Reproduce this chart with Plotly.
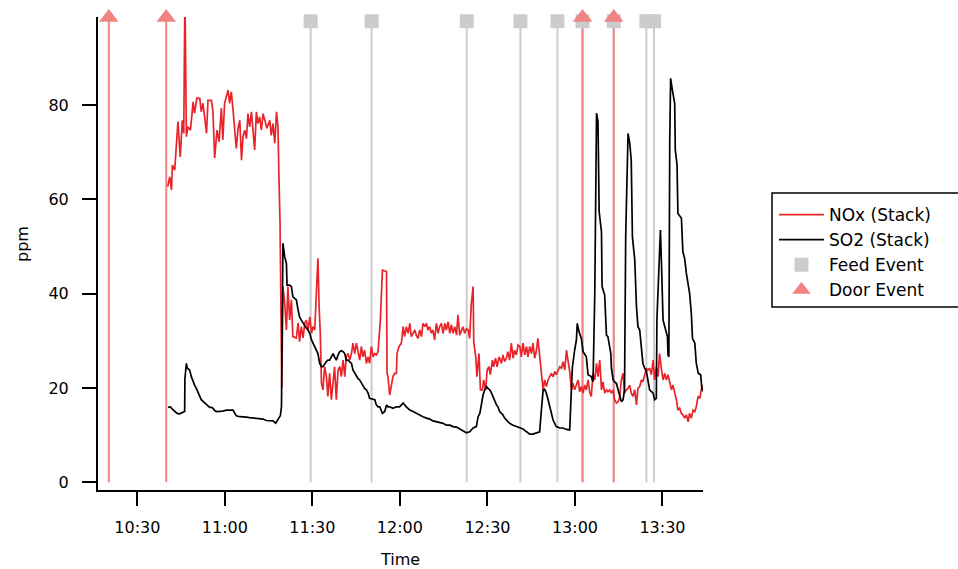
import pandas as pd
import plotly.graph_objects as go

# ---------------- data (minutes after 10:30, ppm) ----------------
nox_min = [10.4, 11.1, 11.7, 12.0, 12.8, 13.4, 13.9, 14.7, 15.4, 15.9, 16.3, 16.8, 17.3, 18.2, 19.1, 19.6,
           20.4, 21.4, 21.9, 22.5, 23.1, 23.7, 24.2, 25.4, 25.9, 26.5, 27.3, 28.0, 28.8, 29.3, 29.9, 30.5,
           31.1, 31.6, 32.2, 32.8, 33.4, 33.9, 34.5, 35.1, 35.7, 36.2, 36.8, 37.4, 37.9, 38.5, 39.1, 39.6,
           40.2, 40.8, 41.3, 41.9, 42.5, 43.1, 44.0, 44.4, 45.4, 45.9, 46.5, 47.1, 47.7, 48.2, 48.5, 48.9,
           49.5, 49.9, 50.5, 51.1, 51.6, 52.2, 52.8, 53.3, 54.5, 55.1, 55.6, 56.2, 56.8, 57.4, 57.9, 58.5,
           59.1, 59.7, 60.2, 60.8, 61.4, 61.9, 62.3, 62.7, 63.1, 63.6, 64.2, 64.8, 65.3, 65.9, 66.5, 67.1,
           67.6, 68.2, 68.8, 69.4, 69.9, 70.5, 71.1, 71.6, 72.2, 72.8, 73.4, 73.9, 74.5, 75.1, 75.6, 76.2,
           76.8, 77.3, 77.9, 78.5, 79.1, 79.6, 80.2, 80.8, 81.4, 81.9, 82.5, 83.3, 84.0, 85.4, 85.6, 85.9,
           86.5, 87.1, 87.6, 88.2, 88.8, 89.0, 89.7, 90.5, 91.1, 91.6, 92.2, 92.8, 93.4, 93.9, 94.5, 95.1,
           95.6, 96.2, 96.8, 97.4, 97.9, 98.5, 99.1, 99.6, 100.2, 100.8, 101.3, 101.9, 102.5, 103.1, 103.6,
           104.2, 104.8, 105.4, 105.9, 106.5, 107.1, 107.6, 108.2, 108.8, 109.4, 109.9, 110.5, 111.1, 111.6,
           112.2, 112.8, 113.4, 113.9, 114.5, 115.1, 115.3, 116.0, 116.4, 117.1, 117.6, 118.3, 118.7, 119.4,
           119.9, 120.5, 121.0, 121.7, 122.1, 122.8, 123.3, 124.0, 124.8, 125.3, 125.9, 126.5, 127.0, 127.6,
           128.2, 128.8, 129.3, 129.9, 130.5, 131.1, 131.6, 132.2, 132.8, 133.4, 133.9, 134.5, 135.1, 135.6,
           136.2, 136.8, 137.3, 137.9, 138.5, 139.1, 139.6, 140.2, 140.8, 141.4, 141.9, 142.5, 143.1, 143.6,
           144.2, 144.8, 145.4, 145.9, 146.5, 147.1, 147.6, 148.2, 148.8, 149.3, 149.9, 150.5, 151.1, 151.6,
           152.2, 152.8, 153.3, 153.9, 154.5, 155.1, 155.6, 156.2, 156.8, 157.4, 157.9, 158.5, 159.1, 159.6,
           160.2, 160.8, 161.3, 161.9, 162.5, 163.1, 163.6, 164.2, 164.8, 165.3, 165.9, 166.5, 167.0, 167.6,
           168.2, 168.8, 169.3, 169.9, 170.5, 171.1, 171.6, 172.2, 172.8, 173.3, 173.9, 174.5, 175.0, 175.6,
           176.2, 176.8, 177.3, 177.9, 178.5, 179.0, 179.6, 180.2, 180.8, 181.3, 181.9, 182.5, 183.1, 183.6,
           184.2, 184.8, 185.3, 185.9, 186.5, 187.0, 187.6, 188.2, 188.8, 189.3, 189.9, 190.5, 191.1, 191.6,
           192.2, 192.8, 193.3, 193.9]
nox_ppm = [62.7, 64.8, 62.0, 67.3, 66.2, 73.0, 76.5, 69.0, 76.8, 74.0, 104.0, 73.3, 75.4, 74.7, 80.7, 78.3,
           81.5, 81.4, 78.6, 80.4, 76.8, 74.0, 81.0, 81.0, 78.6, 68.8, 74.7, 72.2, 79.4, 72.6, 80.4, 82.0,
           83.2, 80.4, 82.8, 79.0, 74.7, 70.8, 75.0, 76.8, 68.3, 73.3, 74.7, 72.9, 78.2, 75.4, 78.6, 74.0,
           70.5, 78.6, 76.1, 77.5, 74.7, 78.2, 76.2, 75.1, 76.8, 73.6, 76.1, 71.9, 78.6, 75.4, 65.6, 55.0,
           20.0, 41.5, 38.0, 32.3, 41.5, 34.4, 38.7, 30.9, 30.6, 33.8, 29.8, 33.0, 30.6, 33.8, 34.4, 32.3,
           35.1, 31.6, 33.0, 32.3, 40.8, 47.5, 37.2, 31.6, 21.0, 19.6, 24.5, 22.4, 18.2, 23.1, 17.5, 22.4,
           24.5, 17.5, 23.8, 24.5, 22.4, 25.9, 22.4, 26.6, 27.3, 25.9, 27.3, 29.5, 27.3, 29.5, 28.0, 25.9,
           28.8, 26.6, 28.0, 25.2, 26.6, 25.2, 28.8, 26.6, 27.3, 27.0, 27.7, 34.4, 45.0, 44.7, 23.1, 22.4,
           18.5, 21.0, 22.4, 23.1, 23.1, 27.3, 28.8, 29.5, 33.0, 30.9, 33.0, 31.6, 33.7, 30.9, 31.6, 32.3,
           31.2, 30.5, 32.3, 30.9, 33.7, 33.0, 33.7, 32.3, 33.0, 31.6, 32.3, 30.2, 33.7, 31.6, 33.0,
           33.7, 31.6, 33.7, 32.3, 34.0, 31.6, 33.4, 31.6, 33.0, 31.2, 35.5, 31.2, 32.3, 33.0,
           31.6, 32.6, 32.3, 30.5, 38.0, 41.5, 29.8, 26.6, 22.4, 27.3, 19.6, 19.6, 21.7, 19.6,
           23.8, 24.5, 22.8, 25.9, 24.5, 26.3, 24.5, 26.6, 25.2, 27.0, 25.6, 26.3, 27.7, 25.9,
           29.5, 26.3, 28.0, 27.0, 29.1, 28.8, 26.6, 29.5, 27.0, 28.8, 26.6, 28.8, 27.3, 29.5,
           26.3, 28.0, 30.5, 27.0, 22.4, 19.6, 21.7, 20.3, 21.7, 22.4, 23.1, 22.4, 23.5, 22.8,
           23.8, 24.5, 24.2, 25.6, 23.8, 28.0, 25.9, 23.5, 19.6, 21.0, 19.6, 20.6, 21.7, 19.2,
           20.3, 18.9, 20.6, 19.6, 21.7, 18.9, 18.2, 23.1, 21.7, 25.2, 22.4, 25.9, 19.6, 21.3,
           18.9, 19.6, 19.2, 19.6, 18.9, 19.6, 17.5, 16.8, 17.1, 17.8, 21.7, 23.1, 18.9, 19.6,
           19.9, 20.6, 18.9, 18.2, 19.6, 16.4, 19.9, 20.3, 21.7, 21.3, 22.8, 24.2, 23.8, 24.2,
           22.8, 25.9, 21.7, 24.5, 22.4, 27.3, 24.2, 21.7, 23.1, 21.7, 22.8, 21.0, 19.6, 20.6,
           18.9, 17.5, 15.3, 15.7, 14.6, 14.3, 13.6, 14.3, 12.8, 14.6, 13.6, 15.3, 15.0, 16.0,
           18.2, 17.8, 19.6, 20.6]

so2_min = [10.5, 11.3, 12.0, 12.8, 13.6, 14.5, 15.4, 16.2, 16.3, 16.8, 17.1, 17.9, 18.5, 19.1, 19.6, 20.2,
           20.8, 21.4, 21.9, 22.5, 23.1, 23.7, 24.2, 24.8, 25.4, 25.9, 26.5, 27.1, 28.2, 29.3, 30.5, 31.6,
           32.8, 33.4, 33.9, 35.1, 36.2, 37.4, 38.5, 39.6, 40.8, 41.9, 43.1, 44.2, 45.4, 46.5, 47.4, 48.2,
           49.0, 49.4, 49.7, 49.9, 50.5, 51.1, 51.3, 52.2, 52.8, 53.3, 53.9, 54.5, 55.1, 55.6, 56.2, 56.8,
           57.4, 57.9, 58.5, 59.1, 59.7, 60.2, 60.8, 61.4, 61.9, 62.5, 63.1, 63.6, 64.2, 64.8, 65.3, 65.9,
           66.5, 67.1, 67.6, 68.2, 68.8, 69.4, 69.9, 70.5, 71.1, 71.6, 72.2, 72.8, 73.4, 73.9, 74.5, 75.1,
           75.6, 76.2, 76.8, 77.3, 77.9, 78.5, 79.1, 79.6, 80.8, 81.4, 81.9, 82.5, 83.1, 84.0, 84.8, 85.4,
           85.9, 86.5, 87.6, 88.8, 89.9, 90.5, 91.1, 92.2, 93.4, 94.5, 95.6, 96.8, 97.9, 99.1, 100.2, 101.3,
           102.5, 103.6, 104.8, 105.9, 107.1, 108.2, 109.4, 110.5, 111.6, 112.8, 113.9, 115.1, 116.2, 116.8,
           117.4, 117.9, 118.5, 119.1, 119.7, 120.2, 120.8, 121.4, 121.9, 122.5, 123.1, 123.6, 124.2, 124.8,
           125.3, 125.9, 126.5, 127.6, 128.8, 129.9, 131.1, 132.2, 133.4, 134.5, 135.6, 136.8, 137.9, 138.5,
           139.1, 139.6, 140.2, 140.8, 141.4, 142.5, 143.6, 144.8, 145.9, 147.1, 148.2, 148.8, 149.1, 149.9,
           150.5, 150.8, 151.4, 152.2, 152.8, 153.9, 154.5, 155.6, 156.2, 156.8, 157.4, 157.9, 158.3, 159.1,
           159.3, 160.2, 160.8, 161.3, 161.9, 162.3, 162.5, 163.1, 163.6, 164.2, 164.8, 165.3, 165.9, 166.5,
           167.0, 167.4, 168.0, 168.2, 168.8, 169.3, 169.7, 170.5, 171.1, 171.6, 172.2, 172.8, 173.3, 173.9,
           174.5, 175.6, 176.8, 177.3, 177.9, 178.1, 178.8, 179.3, 179.7, 180.2, 181.1, 181.7, 181.9, 182.2,
           182.5, 182.8, 183.4, 184.2, 184.4, 185.0, 185.3, 186.5, 187.0, 187.6, 188.2, 188.8, 189.3, 189.9,
           190.3, 191.1, 191.6, 192.3, 193.1, 193.5, 194.1]
so2_ppm = [15.9, 16.0, 15.5, 15.0, 14.6, 14.5, 14.8, 15.0, 22.0, 25.2, 24.2, 23.8, 22.4, 21.3, 20.6, 19.9,
           19.2, 18.2, 17.5, 17.1, 16.8, 16.4, 16.2, 15.9, 15.9, 15.7, 15.2, 15.0, 15.0, 15.1, 15.3, 15.3,
           15.3, 14.6, 14.1, 13.9, 13.9, 13.8, 13.7, 13.6, 13.6, 13.4, 13.4, 13.1, 13.0, 13.0, 12.5, 13.2,
           14.1, 16.0, 34.4, 50.7, 47.8, 46.4, 41.8, 41.8, 41.5, 39.4, 39.0, 38.7, 36.5, 35.1, 34.4, 33.7,
           33.0, 32.7, 32.3, 31.6, 30.2, 29.5, 28.8, 27.7, 27.3, 25.2, 24.5, 24.5, 25.2, 25.6, 25.9, 25.9,
           26.6, 27.3, 26.6, 25.9, 27.0, 27.7, 27.9, 27.7, 27.3, 25.9, 25.9, 25.6, 25.2, 23.8, 23.1, 22.4,
           22.0, 21.7, 21.0, 20.6, 19.9, 19.6, 18.9, 17.8, 17.6, 17.5, 16.4, 16.0, 16.0, 14.6, 15.0, 16.4,
           16.0, 16.0, 15.7, 16.0, 16.0, 16.5, 16.8, 16.0, 15.3, 15.0, 14.6, 14.3, 13.9, 13.6, 13.4, 13.0,
           12.8, 12.6, 12.5, 12.1, 12.1, 11.8, 11.7, 11.3, 10.9, 10.5, 10.7, 11.5, 11.8, 13.9,
           14.6, 16.8, 18.5, 19.6, 20.3, 19.9, 19.6, 18.9, 18.2, 17.1, 16.4, 16.0, 15.0, 14.6,
           14.3, 13.6, 13.2, 12.5, 12.1, 11.8, 11.5, 11.3, 10.7, 10.2, 10.2, 10.4, 10.7, 15.3,
           19.6, 19.7, 18.9, 17.5, 16.0, 13.2, 11.8, 11.5, 11.5, 11.2, 11.1, 18.2, 24.2, 28.0,
           30.2, 33.7, 31.9, 30.5, 27.7, 26.6, 22.8, 22.4, 21.3, 40.0, 78.3, 76.5, 57.4, 53.1,
           41.5, 39.7, 31.2, 30.9, 28.0, 27.3, 24.2, 21.7, 21.3, 21.0, 19.6, 18.5, 17.1, 17.5,
           19.6, 52.1, 64.8, 74.0, 71.9, 68.3, 52.1, 47.2, 37.2, 33.0, 32.3, 28.0, 25.2, 24.2,
           23.5, 19.6, 18.9, 17.5, 17.8, 34.4, 43.6, 53.5, 45.7, 34.4, 32.3, 30.9, 27.0, 26.6,
           72.6, 85.7, 83.2, 80.4, 70.5, 67.3, 57.0, 56.0, 48.9, 47.5, 44.3, 42.2, 40.1, 35.8,
           30.5, 29.5, 25.2, 23.1, 22.8, 19.9, 19.2]

feed_min = [59.4, 80.3, 112.9, 131.3, 144.0, 152.6, 163.3, 174.5, 177.1]
door_min = [-9.8, 9.9, 152.6, 163.3]

x_tick_labels = ["10:30", "11:00", "11:30", "12:00", "12:30", "13:00", "13:30"]
y_tick_values = [0, 20, 40, 60, 80]

# ---------------- helpers ----------------
BASE = pd.Timestamp("2000-01-01 10:30")


def to_time(mins):
    return [BASE + pd.Timedelta(minutes=m) for m in mins]


FEED_LEVEL = 97.8
DOOR_LEVEL = 98.6
FONT = "DejaVu Sans"
NOX_COLOR = "#e8242a"
FEED_COLOR = "#cccccc"
DOOR_COLOR = "#f28383"

fig = go.Figure()


def stems(mins, top):
    xs, ys = [], []
    for t in to_time(mins):
        xs += [t, t, None]
        ys += [0, top, None]
    return xs, ys


fx, fy = stems(feed_min, FEED_LEVEL)
fig.add_trace(go.Scatter(x=fx, y=fy, mode="lines", line=dict(color=FEED_COLOR, width=2),
                         showlegend=False, hoverinfo="skip"))
dx, dy = stems(door_min, DOOR_LEVEL)
fig.add_trace(go.Scatter(x=dx, y=dy, mode="lines", line=dict(color=DOOR_COLOR, width=2),
                         showlegend=False, hoverinfo="skip"))

fig.add_trace(go.Scatter(x=to_time(nox_min), y=nox_ppm, mode="lines", name="NOx (Stack)",
                         line=dict(color=NOX_COLOR, width=1.7)))
fig.add_trace(go.Scatter(x=to_time(so2_min), y=so2_ppm, mode="lines", name="SO2 (Stack)",
                         line=dict(color="black", width=1.7)))
fig.add_trace(go.Scatter(x=to_time(feed_min), y=[FEED_LEVEL] * len(feed_min), mode="markers",
                         name="Feed Event", cliponaxis=False,
                         marker=dict(symbol="square", size=14, color=FEED_COLOR)))
fig.add_trace(go.Scatter(x=to_time(door_min), y=[DOOR_LEVEL] * len(door_min), mode="markers",
                         name="Door Event", cliponaxis=False,
                         marker=dict(symbol="triangle-up", size=17, color=DOOR_COLOR)))

tick_vals = [pd.Timestamp("2000-01-01 " + s) for s in x_tick_labels]

# legend frame (extends to the right edge like the reference)
PLOT_L, PLOT_R, PLOT_T, PLOT_B = 98, 703, 17, 490


def px_x(p):
    return (p - PLOT_L) / (PLOT_R - PLOT_L)


def px_y(p):
    return (PLOT_B - p) / (PLOT_B - PLOT_T)


fig.add_shape(type="rect", xref="paper", yref="paper",
              x0=px_x(772), x1=px_x(964), y0=px_y(307), y1=px_y(193),
              line=dict(color="black", width=1.5), fillcolor="rgba(0,0,0,0)", layer="above")

fig.add_annotation(text="ppm", xref="paper", yref="paper", x=px_x(22), y=px_y(244),
                   xanchor="center", yanchor="middle",
                   textangle=-90, showarrow=False, font=dict(family=FONT, size=16, color="black"))

fig.update_layout(
    width=958, height=569,
    margin=dict(l=PLOT_L, r=958 - PLOT_R, t=PLOT_T, b=569 - PLOT_B, autoexpand=False),
    paper_bgcolor="white", plot_bgcolor="white",
    font=dict(family=FONT, size=16, color="black"),
    showlegend=True,
    legend=dict(x=px_x(774), y=px_y(197), xanchor="left", yanchor="top",
                borderwidth=0, bgcolor="rgba(0,0,0,0)",
                font=dict(family=FONT, size=17), itemwidth=45, tracegroupgap=0),
    xaxis=dict(
        range=[BASE + pd.Timedelta(minutes=-13.5), BASE + pd.Timedelta(minutes=193.9)],
        tickvals=tick_vals, ticktext=x_tick_labels,
        showgrid=False, zeroline=False, automargin=False,
        showline=True, linecolor="black", linewidth=2,
        ticks="outside", ticklen=14, tickwidth=2, tickcolor="black",
        ticklabelstandoff=8,
        title=dict(text="Time", standoff=20, font=dict(size=16)),
    ),
    yaxis=dict(
        range=[-1.65, 98.7],
        tickvals=y_tick_values,
        showgrid=False, zeroline=False, automargin=False,
        showline=True, linecolor="black", linewidth=2,
        ticks="outside", ticklen=14, tickwidth=2, tickcolor="black",
        ticklabelstandoff=10,
    ),
)

fig.write_html("out.html")
